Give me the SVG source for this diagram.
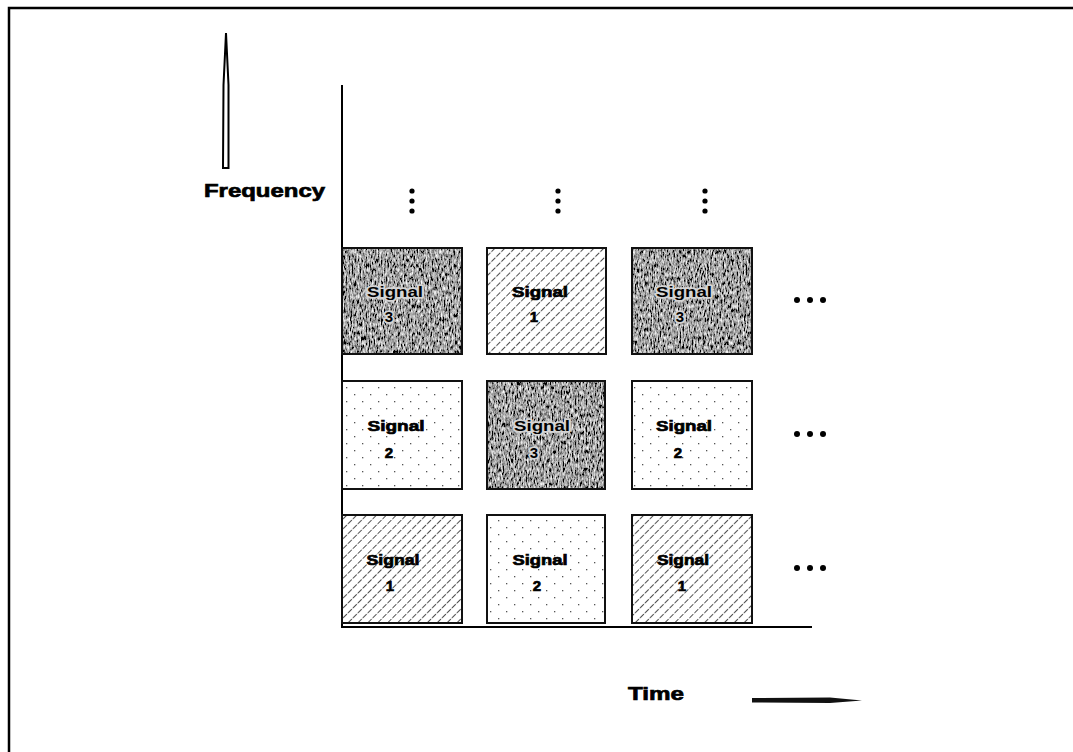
<svg xmlns="http://www.w3.org/2000/svg" width="1073" height="752" viewBox="0 0 1073 752">
<style>
.frame{fill:none;stroke:#000;stroke-width:2.5}
.axis{fill:none;stroke:#000;stroke-width:2}
.box{stroke:#111;stroke-width:2}
.lbl{font-family:"Liberation Sans",Arial,sans-serif;font-weight:bold;font-size:15px;fill:#000;stroke:#000;stroke-width:0.7;text-anchor:middle}
.dark .lbl{fill:#000;stroke:#d4d4d4;stroke-width:3.5;paint-order:stroke;stroke-linejoin:round}
.axlbl{font-family:"Liberation Sans",Arial,sans-serif;font-weight:bold;font-size:19px;fill:#000;stroke:#000;stroke-width:0.7}
.dot{fill:#000}
</style>
<defs>
<pattern id="hatch" width="7" height="7" patternUnits="userSpaceOnUse" patternTransform="rotate(45)">
<rect width="7" height="7" fill="#fff"/>
<line x1="0" y1="0" x2="0" y2="7" stroke="#222" stroke-width="1.6" stroke-dasharray="5.5 1.5"/>
</pattern>
<pattern id="dots" width="16" height="14" patternUnits="userSpaceOnUse">
<rect width="16" height="14" fill="#fff"/>
<rect x="2" y="2" width="1.3" height="1.3" fill="#555"/>
<rect x="10" y="9" width="1.3" height="1.3" fill="#555"/>
</pattern>
<filter id="noise" x="0" y="0" width="100%" height="100%" filterUnits="objectBoundingBox">
<feTurbulence type="fractalNoise" baseFrequency="0.65 0.22" numOctaves="3" seed="4" result="t"/>
<feColorMatrix in="t" type="matrix" values="1.9 0 0 0 -0.6  1.9 0 0 0 -0.6  1.9 0 0 0 -0.6  0 0 0 0 1" result="m"/>
<feComposite in="m" in2="SourceGraphic" operator="in"/>
</filter>
</defs>
<rect width="1073" height="752" fill="#fff"/>
<path class="frame" d="M9,752 V8 H1073"/>

<g id="axes">
<line class="axis" x1="342" y1="85" x2="342" y2="627"/>
<line class="axis" x1="341" y1="627" x2="812" y2="627"/>
</g>

<g id="frequency-label">
<polygon points="226,33 228.5,85 228.5,168 223,168 223.5,85" fill="#fff" stroke="#000" stroke-width="2"/>
<text class="axlbl" x="204" y="197" textLength="121" lengthAdjust="spacingAndGlyphs">Frequency</text>
</g>

<g id="time-label">
<text class="axlbl" x="628" y="700" textLength="56" lengthAdjust="spacingAndGlyphs">Time</text>
<polygon points="752,698 830,697.5 862,700.5 830,703 752,702.5" fill="#111"/>
</g>

<g id="vdots">
<circle class="dot" cx="412" cy="191" r="2.6"/><circle class="dot" cx="412" cy="201" r="2.6"/><circle class="dot" cx="412" cy="211" r="2.6"/>
<circle class="dot" cx="558" cy="191" r="2.6"/><circle class="dot" cx="558" cy="201" r="2.6"/><circle class="dot" cx="558" cy="211" r="2.6"/>
<circle class="dot" cx="705" cy="191" r="2.6"/><circle class="dot" cx="705" cy="201" r="2.6"/><circle class="dot" cx="705" cy="211" r="2.6"/>
</g>

<g id="hdots">
<circle class="dot" cx="797" cy="300" r="3"/><circle class="dot" cx="810" cy="300" r="3"/><circle class="dot" cx="823" cy="300" r="3"/>
<circle class="dot" cx="797" cy="434" r="3"/><circle class="dot" cx="810" cy="434" r="3"/><circle class="dot" cx="823" cy="434" r="3"/>
<circle class="dot" cx="797" cy="568" r="3"/><circle class="dot" cx="810" cy="568" r="3"/><circle class="dot" cx="823" cy="568" r="3"/>
</g>

<g id="r1c1" class="dark">
<rect x="342" y="248" width="120" height="106" fill="#000" filter="url(#noise)"/>
<rect class="box" x="342" y="248" width="120" height="106" fill="none"/>
<text class="lbl" x="395" y="297" textLength="56" lengthAdjust="spacingAndGlyphs">Signal</text>
<text class="lbl" x="389" y="322">3</text>
</g>
<g id="r1c2">
<rect class="box" x="487" y="248" width="119" height="106" fill="url(#hatch)"/>
<text class="lbl" x="540" y="297" textLength="56" lengthAdjust="spacingAndGlyphs">Signal</text>
<text class="lbl" x="534" y="322">1</text>
</g>
<g id="r1c3" class="dark">
<rect x="632" y="248" width="120" height="106" fill="#000" filter="url(#noise)"/>
<rect class="box" x="632" y="248" width="120" height="106" fill="none"/>
<text class="lbl" x="684" y="297" textLength="56" lengthAdjust="spacingAndGlyphs">Signal</text>
<text class="lbl" x="680" y="322">3</text>
</g>

<g id="r2c1">
<rect class="box" x="342" y="381" width="120" height="108" fill="url(#dots)"/>
<text class="lbl" x="396" y="431" textLength="57" lengthAdjust="spacingAndGlyphs">Signal</text>
<text class="lbl" x="389" y="458">2</text>
</g>
<g id="r2c2" class="dark">
<rect x="487" y="381" width="118" height="108" fill="#000" filter="url(#noise)"/>
<rect class="box" x="487" y="381" width="118" height="108" fill="none"/>
<text class="lbl" x="542" y="431" textLength="56" lengthAdjust="spacingAndGlyphs">Signal</text>
<text class="lbl" x="534" y="458">3</text>
</g>
<g id="r2c3">
<rect class="box" x="632" y="381" width="120" height="108" fill="url(#dots)"/>
<text class="lbl" x="684" y="431" textLength="56" lengthAdjust="spacingAndGlyphs">Signal</text>
<text class="lbl" x="678" y="458">2</text>
</g>

<g id="r3c1">
<rect class="box" x="342" y="515" width="120" height="108" fill="url(#hatch)"/>
<text class="lbl" x="393" y="565" textLength="53" lengthAdjust="spacingAndGlyphs">Signal</text>
<text class="lbl" x="390" y="591">1</text>
</g>
<g id="r3c2">
<rect class="box" x="487" y="515" width="118" height="108" fill="url(#dots)"/>
<text class="lbl" x="540" y="565" textLength="55" lengthAdjust="spacingAndGlyphs">Signal</text>
<text class="lbl" x="537" y="591">2</text>
</g>
<g id="r3c3">
<rect class="box" x="632" y="515" width="120" height="108" fill="url(#hatch)"/>
<text class="lbl" x="683" y="565" textLength="52" lengthAdjust="spacingAndGlyphs">Signal</text>
<text class="lbl" x="682" y="591">1</text>
</g>
</svg>
